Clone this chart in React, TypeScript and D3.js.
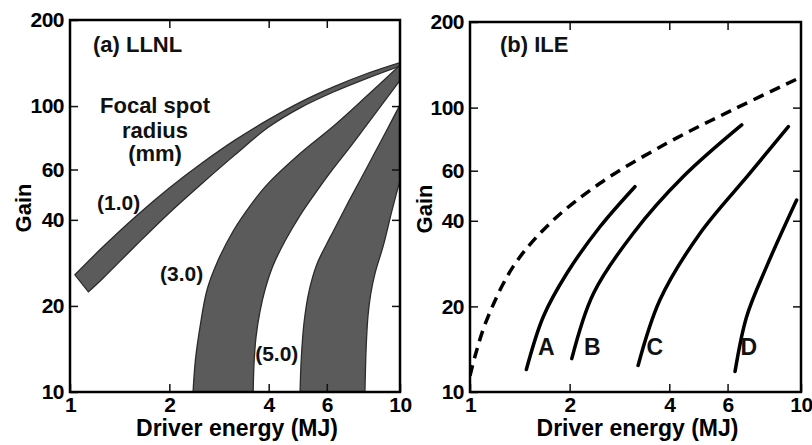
import React, { useEffect, useRef } from 'react';
import * as d3 from 'd3';

type Pt = [number, number];

// axes (both panels)
const xTicks = [1, 2, 4, 6, 10];
const yTicks = [10, 20, 40, 60, 100, 200];
const xInner = [2, 4, 6];
const yInner = [20, 40, 60, 100];

// (a) LLNL, bands of gain vs driver energy [MJ, gain]
const band10Upper: Pt[] = [[1.035, 25.7], [1.259, 32.2], [1.585, 41.2], [1.995, 51.6], [2.512, 63.2], [3.162, 76], [3.981, 89.5], [5.012, 103.5], [6.31, 117], [7.943, 130], [10, 142]];
const band10Lower: Pt[] = [[1.137, 22.4], [1.259, 25], [1.585, 32.6], [1.995, 42.2], [2.512, 53.6], [3.162, 67.5], [3.981, 84.1], [5.012, 98.9], [6.31, 112.2], [7.943, 125], [10, 138]];
const band30Outer: Pt[] = [[2.36, 10], [2.4, 13], [2.48, 17], [2.6, 22.7], [2.8, 28.6], [3.12, 36.5], [3.55, 45.5], [3.95, 53], [5, 68.5], [6.28, 85], [7.9, 108], [10, 139]];
const band30Inner: Pt[] = [[3.59, 10], [3.61, 12.5], [3.66, 15.5], [3.76, 19], [3.9, 22.8], [4.13, 27.8], [4.5, 34], [4.98, 41.5], [5.6, 50.5], [6.28, 60.5], [7, 71], [7.93, 86], [10, 123]];
const band50Outer: Pt[] = [[4.98, 10], [5.02, 13], [5.12, 17.5], [5.3, 22.5], [5.6, 28], [6, 33], [6.28, 36.5], [7, 46.5], [7.94, 61], [9, 80], [10, 101]];
const band50Inner: Pt[] = [[7.83, 10], [7.9, 14.5], [8.0, 18.5], [8.15, 22], [8.4, 26], [8.9, 32.5], [9.45, 43], [10, 55]];

// labels of panel (a), [MJ, gain] of the text anchor
const llnlTitle: Pt = [1.174, 154];
const focalLines = ['Focal spot', 'radius', '(mm)'];
const focalPos: Pt[] = [[1.81, 94.6], [1.81, 77.4], [1.81, 64.3]];
const bandNames = ['(1.0)', '(3.0)', '(5.0)'];
const bandNamePos: Pt[] = [[1.207, 43.3], [1.874, 24.5], [3.64, 12.8]];

// (b) ILE
const ileEnvelope: Pt[] = [[1.0, 11.4], [1.04, 13.6], [1.123, 17.9], [1.35, 27.6], [1.745, 39.2], [2.47, 54.2], [3.93, 74.9], [6.25, 98.5], [10, 128]];
const curveA: Pt[] = [[1.48, 12], [1.665, 18.4], [1.96, 26.1], [2.47, 38.1], [3.15, 52.7]];
const curveB: Pt[] = [[2.03, 13.1], [2.36, 22.2], [3.11, 36.1], [4.41, 57.2], [6.62, 86.9]];
const curveC: Pt[] = [[3.22, 12.4], [3.75, 21.1], [4.95, 36.1], [7.01, 58.8], [9.16, 85.7]];
const curveD: Pt[] = [[6.32, 11.8], [6.85, 18.4], [7.87, 27.6], [9.7, 47.3]];
const curveNames = ['A', 'B', 'C', 'D'];
const curveNamePos: Pt[] = [[1.70, 13.5], [2.34, 13.5], [3.62, 13.5], [6.96, 13.5]];
const ileTitle: Pt = [1.232, 156.8];

const FONT = '"Liberation Sans", Arial, Helvetica, sans-serif';

export default function App() {
  const ref = useRef<SVGSVGElement>(null);

  useEffect(() => {
    const svg = d3.select(ref.current);
    svg.selectAll('*').remove();

    const drawFrame = (x: any, y: any, id: string, ylabX: number) => {
      const [x0, x1] = x.range();
      const [y0, y1] = y.range();
      const g = svg.append('g');

      g.append('clipPath').attr('id', id)
        .append('rect').attr('x', x0).attr('y', y1).attr('width', x1 - x0).attr('height', y0 - y1);

      g.append('g').attr('transform', `translate(0,${y0})`)
        .call(d3.axisBottom(x).tickValues(xTicks).tickFormat(d3.format('d')).tickSizeInner(-8).tickSizeOuter(0).tickPadding(5));
      g.append('g').attr('transform', `translate(0,${y1})`)
        .call(d3.axisTop(x).tickValues(xInner).tickFormat(() => '').tickSizeInner(-8).tickSizeOuter(0));
      g.append('g').attr('transform', `translate(${x0},0)`)
        .call(d3.axisLeft(y).tickValues(yTicks).tickFormat(d3.format('d')).tickSizeInner(-8).tickSizeOuter(0).tickPadding(6));
      g.append('g').attr('transform', `translate(${x1},0)`)
        .call(d3.axisRight(y).tickValues(yInner).tickFormat(() => '').tickSizeInner(-8).tickSizeOuter(0));

      g.selectAll('.domain').remove();
      g.selectAll('.tick line').attr('stroke', '#111').attr('stroke-width', 1.5);
      g.selectAll('.tick text').attr('fill', '#000').style('font-family', FONT)
        .style('font-size', '21px').style('font-weight', 'bold').style('letter-spacing', '-0.5px');

      g.append('rect').attr('x', x0).attr('y', y1).attr('width', x1 - x0).attr('height', y0 - y1)
        .attr('fill', 'none').attr('stroke', '#000').attr('stroke-width', 2.5);

      g.append('text').attr('x', (x0 + x1) / 2 + 2).attr('y', 436)
        .attr('text-anchor', 'middle').style('font-family', FONT).style('font-size', '23px')
        .style('font-weight', 'bold').text('Driver energy (MJ)');

      g.append('text').attr('transform', `translate(${ylabX},${(y0 + y1) / 2 + 2}) rotate(-90)`)
        .attr('text-anchor', 'middle').style('font-family', FONT).style('font-size', '22px')
        .style('font-weight', 'bold').text('Gain');
    };

    const label = (x: any, y: any, p: Pt, t: string, anchor = 'start', size = 22) => {
      svg.append('text').attr('x', x(p[0])).attr('y', y(p[1])).attr('text-anchor', anchor)
        .style('font-family', FONT).style('font-size', size + 'px').style('font-weight', 'bold')
        .attr('fill', '#111').text(t);
    };

    // panel (a)
    const xa = d3.scaleLog().domain([1, 10]).range([70, 400]);
    const ya = d3.scaleLog().domain([10, 200]).range([392, 20]);
    const lineA = d3.line<Pt>().x(d => xa(d[0])).y(d => ya(d[1])).curve(d3.curveCatmullRom);
    const band = (outer: Pt[], inner: Pt[]) =>
      lineA(outer) + (lineA(inner.slice().reverse()) as string).replace(/^M/, 'L') + 'Z';

    const bands = svg.append('g').attr('clip-path', 'url(#clipA)');
    [[band10Upper, band10Lower], [band30Outer, band30Inner], [band50Outer, band50Inner]].forEach(([o, i]) => {
      bands.append('path').attr('d', band(o, i))
        .attr('fill', '#5b5b5b').attr('stroke', '#2b2b2b').attr('stroke-width', 1.3);
    });

    drawFrame(xa, ya, 'clipA', 31);

    label(xa, ya, llnlTitle, '(a) LLNL');
    focalLines.forEach((t, i) => label(xa, ya, focalPos[i], t, 'middle'));
    bandNames.forEach((t, i) => label(xa, ya, bandNamePos[i], t, 'start', 21));

    // panel (b)
    const xb = d3.scaleLog().domain([1, 10]).range([470, 801]);
    const yb = d3.scaleLog().domain([10, 200]).range([392, 22]);
    const lineB = d3.line<Pt>().x(d => xb(d[0])).y(d => yb(d[1])).curve(d3.curveCatmullRom);

    const curves = svg.append('g').attr('clip-path', 'url(#clipB)');
    curves.append('path').attr('d', lineB(ileEnvelope)).attr('fill', 'none')
      .attr('stroke', '#000').attr('stroke-width', 3.5).attr('stroke-dasharray', '11,7');
    [curveA, curveB, curveC, curveD].forEach(c => {
      curves.append('path').attr('d', lineB(c)).attr('fill', 'none')
        .attr('stroke', '#000').attr('stroke-width', 3.5).attr('stroke-linecap', 'round');
    });

    drawFrame(xb, yb, 'clipB', 432);

    label(xb, yb, ileTitle, '(b) ILE');
    curveNames.forEach((t, i) => label(xb, yb, curveNamePos[i], t, 'middle', 23));
  }, []);

  return (
    <svg ref={ref} width={812} height={445}
      style={{ position: 'absolute', left: 0, top: 0, background: '#fff' }} />
  );
}
